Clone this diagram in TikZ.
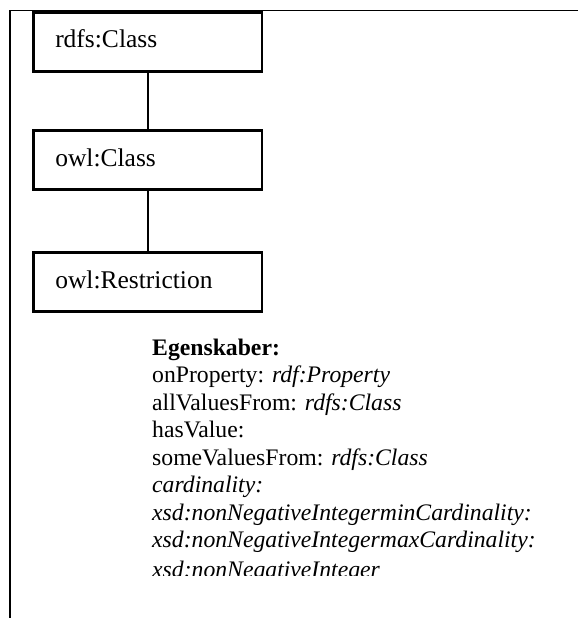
\documentclass[tikz,border=0pt]{standalone}
\usepackage{fontspec}
\setmainfont{Liberation Serif}
\begin{document}
\begin{tikzpicture}[x=1pt,y=-1pt,
  classbox/.style={draw, line width=2.6pt, rectangle, minimum width=228.5pt, minimum height=59pt,
    inner xsep=0pt, inner ysep=0pt, text height=18pt, text depth=6pt,
    font=\fontsize{25.5}{29}\selectfont, text width=185pt, align=left},
  link/.style={line width=1.5pt},
  frameline/.style={line width=1.6pt},
  prop/.style={anchor=base west, inner sep=0pt, font=\fontsize{23.7}{27.5}\selectfont}]
\useasboundingbox (0,0) rectangle (578,618);
% frame
\coordinate (ftr) at (578,10.5);
\coordinate (ftl) at (10,10.5);
\coordinate (fbl) at (10,618);
\draw[frameline] (ftr) -- (ftl) -- (fbl);
% class boxes
\node[classbox] (rdfs) at (147.75,41.8) {rdfs:Class};
\node[classbox] (owlc) at (147.75,160) {owl:Class};
\node[classbox] (restr) at (147.75,282) {owl:Restriction};
\draw[link] (rdfs.south) -- (owlc.north);
\draw[link] (owlc.south) -- (restr.north);
% properties
\begin{scope}
\clip (140,330) rectangle (578,575.5);
\node[prop] (egen) at (152,355) {\textbf{Egenskaber:}};
\node[prop] (p1) at (152,382.5) {onProperty: \textit{rdf:Property}};
\node[prop] (p2) at (152,410) {allValuesFrom: \textit{rdfs:Class}};
\node[prop] (p3) at (152,437.5) {hasValue:};
\node[prop] (p4) at (152,465) {someValuesFrom: \textit{rdfs:Class}};
\node[prop] (p5) at (152,492.5) {\textit{cardinality:}};
\node[prop] (p6) at (152,520) {\textit{xsd:nonNegativeIntegerminCardinality:}};
\node[prop] (p7) at (152,547.5) {\textit{xsd:nonNegativeIntegermaxCardinality:}};
\node[prop] (p8) at (152,577) {\textit{xsd:nonNegativeInteger}};
\end{scope}
\end{tikzpicture}
\end{document}
